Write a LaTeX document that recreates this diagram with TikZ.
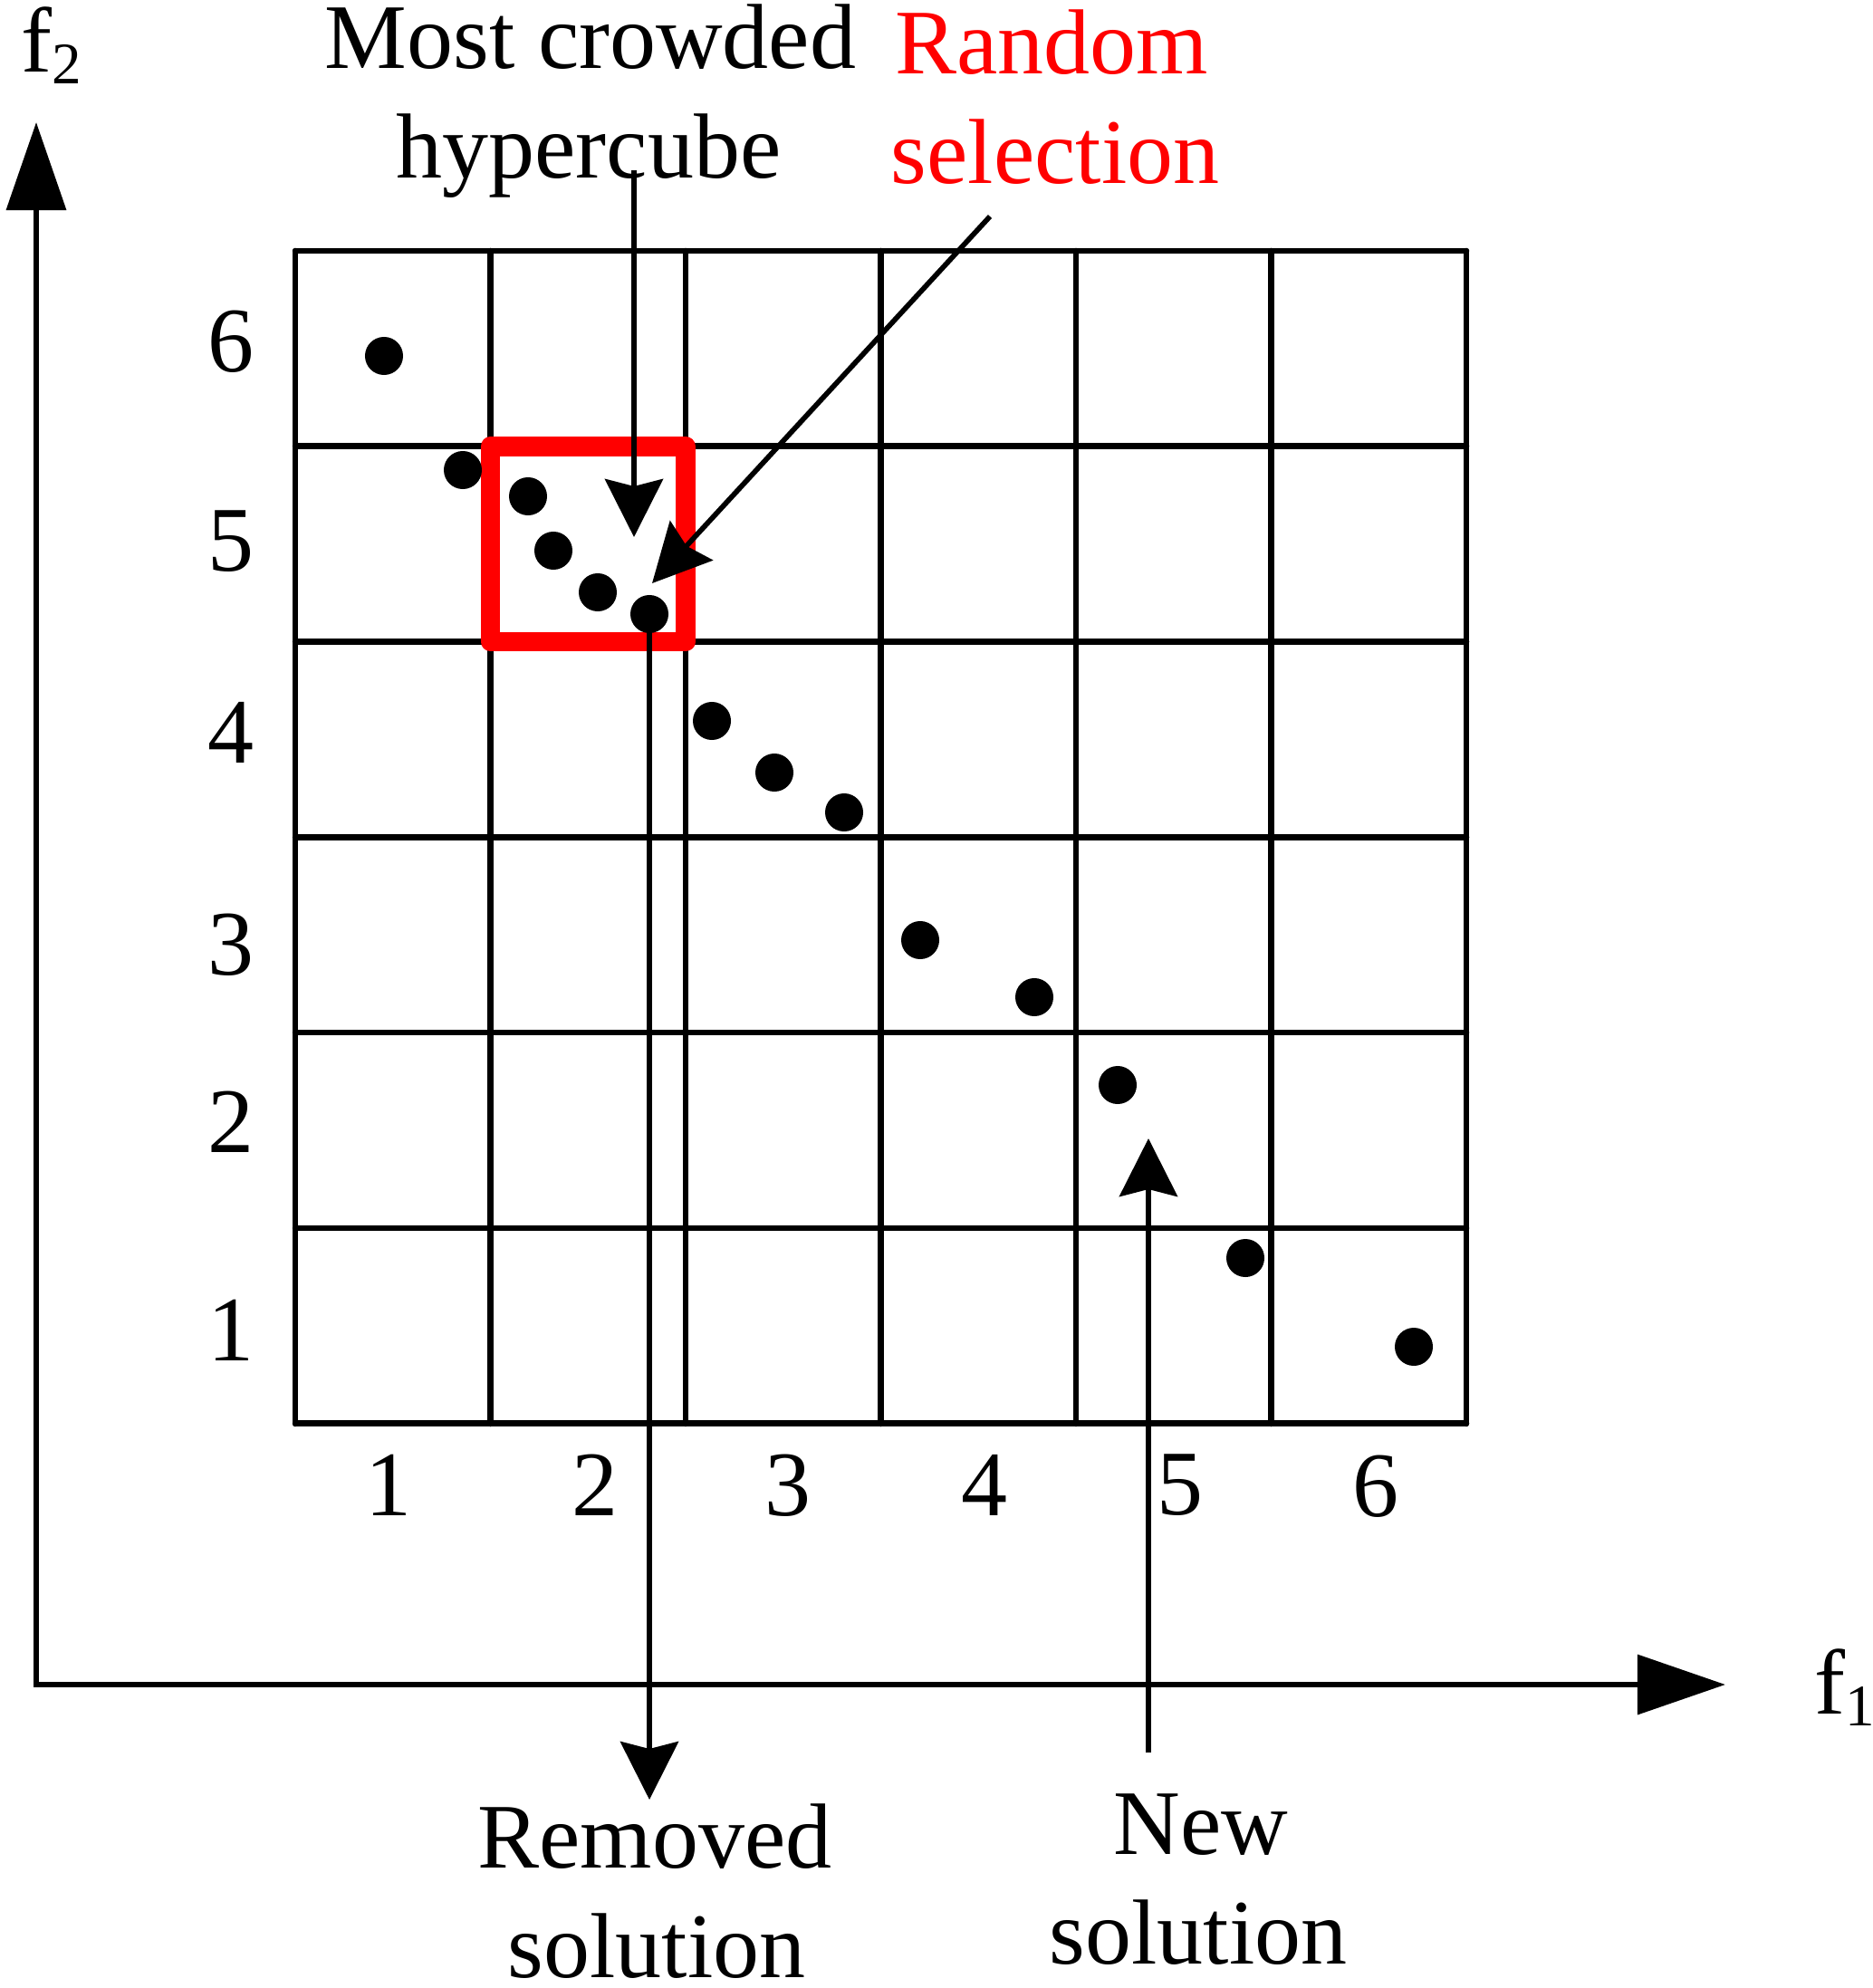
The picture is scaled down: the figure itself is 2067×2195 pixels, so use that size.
\documentclass[tikz,border=0pt]{standalone}
\usepackage{fontspec}
\setmainfont{Liberation Serif}
\usetikzlibrary{arrows.meta}
\tikzset{
  gridline/.style={line width=0.065cm, line cap=round},
  dot/.style={circle, fill=black, inner sep=0pt, minimum size=0.42cm},
  lbl/.style={inner sep=0pt, anchor=base, font=\fontsize{29pt}{34pt}\selectfont},
  num/.style={inner sep=0pt, anchor=center, font=\fontsize{29pt}{34pt}\selectfont},
  arr/.style={line width=0.057cm, -{Stealth[length=0.64cm, width=0.64cm, inset=0.08cm]}},
  axis/.style={line width=0.067cm, line join=miter,
    {Triangle[length=0.97cm, width=0.65cm]}-{Triangle[length=0.97cm, width=0.65cm]}},
  hbox/.style={draw=red, line width=0.217cm, line join=round}
}
\newcommand{\subs}[1]{\raisebox{-0.13cm}{\fontsize{18.5pt}{19pt}\selectfont #1}}
\begin{document}
\begin{tikzpicture}[x=0.01cm, y=-0.01cm]
\useasboundingbox (0,0) rectangle (2067,2195);
\fill[white] (0,0) rectangle (2067,2195);

% axes
\coordinate (ytip) at (40,135);
\coordinate (origin) at (40,1860);
\coordinate (xtip) at (1905,1860);
\draw[axis] (ytip) -- (origin) -- (xtip);
\node[lbl, anchor=base west] (f2) at (23,80) {f\subs{2}};
\node[lbl, anchor=base west] (f1) at (2003,1892) {f\subs{1}};

% grid
\foreach \i in {0,...,6} {
  \draw[gridline] (326+215.5*\i,277) -- (326+215.5*\i,1572);
  \draw[gridline] (326,277+215.75*\i) -- (1619,277+215.75*\i);
}

% most crowded hypercube
\draw[hbox] (541.5,492.75) rectangle (757,708.5);

% row numbers
\node[num] (r6) at (255,377) {6};
\node[num] (r5) at (255,598) {5};
\node[num] (r4) at (255,809) {4};
\node[num] (r3) at (255,1043) {3};
\node[num] (r2) at (255,1239) {2};
\node[num] (r1) at (255,1469) {1};
% column numbers
\node[num] (c1) at (429,1640) {1};
\node[num] (c2) at (657,1640) {2};
\node[num] (c3) at (870,1640) {3};
\node[num] (c4) at (1087,1640) {4};
\node[num] (c5) at (1303,1640) {5};
\node[num] (c6) at (1519,1641) {6};

% solutions
\node[dot] (d1) at (424,393) {};
\node[dot] (d2) at (511,519) {};
\node[dot] (d3) at (583,548) {};
\node[dot] (d4) at (611,608) {};
\node[dot] (d5) at (660,654) {};
\node[dot] (d6) at (717,678) {};
\node[dot] (d7) at (786,796) {};
\node[dot] (d8) at (855,853) {};
\node[dot] (d9) at (932,897) {};
\node[dot] (d10) at (1016,1038) {};
\node[dot] (d11) at (1142,1101) {};
\node[dot] (d12) at (1234,1198) {};
\node[dot] (d13) at (1375,1389) {};
\node[dot] (d14) at (1561,1487) {};

% labels
\node[lbl] (mc1) at (652,76) {Most crowded};
\node[lbl] (mc2) at (650,197) {hypercube};
\node[lbl, text=red] (rs1) at (1161,82) {Random};
\node[lbl, text=red] (rs2) at (1165,203) {selection};
\node[lbl] (rm1) at (723,2062) {Removed};
\node[lbl] (rm2) at (725,2183) {solution};
\node[lbl] (ns1) at (1326,2047) {New};
\node[lbl] (ns2) at (1323,2168) {solution};

% connectors
\coordinate (hcstart) at (700,188);
\coordinate (hctip) at (700,593);
\draw[arr] (hcstart) -- (hctip);
\coordinate (rsstart) at (1093,239);
\coordinate (rstip) at (720,644);
\draw[arr] (rsstart) -- (rstip);
\coordinate (rmtip) at (717,1987);
\draw[arr] (d6.center) -- (rmtip);
\coordinate (nsstart) at (1268,1935);
\coordinate (nstip) at (1268,1257);
\draw[arr] (nsstart) -- (nstip);
\end{tikzpicture}
\end{document}
